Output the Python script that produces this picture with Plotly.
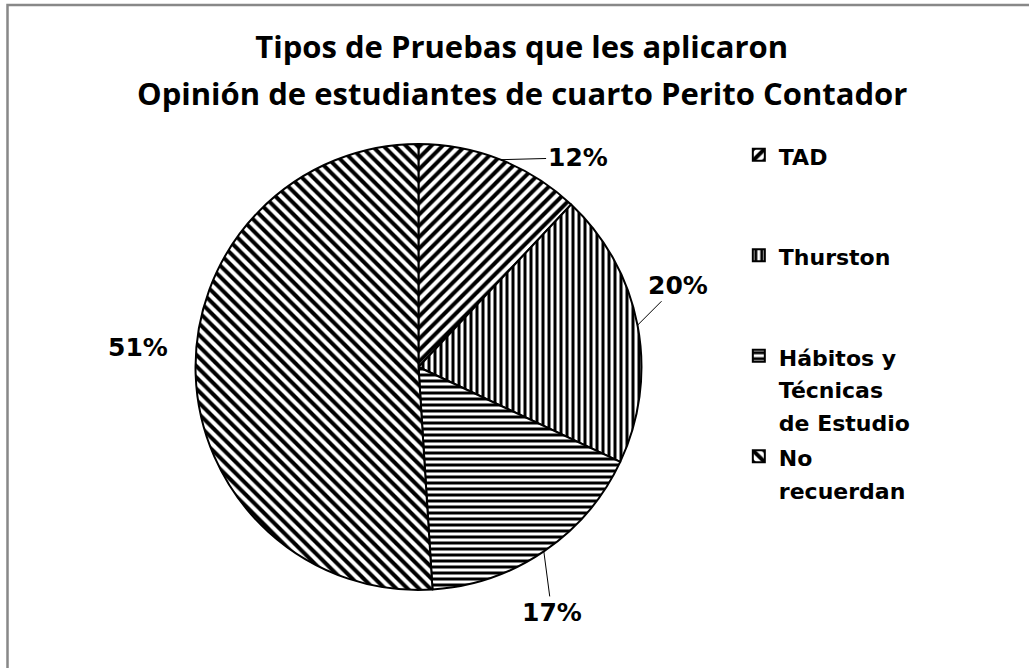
import math
import plotly.graph_objects as go

# data
labels = ["TAD", "Thurston", "Hábitos y<br>Técnicas<br>de Estudio", "No<br>recuerdan"]
values = [12, 20, 17, 51]
patterns = ["/", "|", "-", "\\"]

# legend rows: extra blank lines to reproduce the spacing of the original legend
pad = ["<br> <br> ", "<br> <br> ", "", ""]
legend_names = [f"<span style='font-size:22px'>{t}</span>{p}" for t, p in zip(labels, pad)]

W, H = 1029, 668
dom_x = [0.19, 0.6234]
dom_y = [0.1168, 0.7844]

fig = go.Figure()

fig.add_trace(go.Pie(
    labels=legend_names,
    values=values,
    sort=False,
    direction="clockwise",
    rotation=0,
    textinfo="none",
    hovertemplate="%{percent}<extra></extra>",
    domain=dict(x=dom_x, y=dom_y),
    marker=dict(
        colors=["white"] * 4,
        line=dict(color="black", width=2),
        pattern=dict(shape=patterns, fgcolor="black", bgcolor="white", fgopacity=1,
                     size=[8, 6, 6, 8], solidity=0.5, fillmode="replace"),
    ),
))

# percentage labels with leader lines, placed from the slice mid-angles
cx = (dom_x[0] + dom_x[1]) / 2 * W
cy = (1 - (dom_y[0] + dom_y[1]) / 2) * H
r = min((dom_x[1] - dom_x[0]) * W, (dom_y[1] - dom_y[0]) * H) / 2
total = sum(values)
offsets = [(77, -2, True), (40, -40, True), (8, 61, True), (-58, -27, False)]
cum = 0
for v, (ax, ay, line) in zip(values, offsets):
    mid = (cum + v / 2) / total * 2 * math.pi
    cum += v
    px = cx + r * math.sin(mid)
    py = cy - r * math.cos(mid)
    fig.add_annotation(
        x=px / W, y=1 - py / H, xref="paper", yref="paper",
        text=f"{round(v / total * 100)}%",
        showarrow=True, arrowhead=0, arrowwidth=1,
        arrowcolor="black" if line else "rgba(0,0,0,0)",
        ax=ax, ay=ay,
        font=dict(family="DejaVu Sans", size=25, color="black", weight="bold"),
    )

fig.add_annotation(
    x=0.507, y=1 - 93 / H, xref="paper", yref="paper",
    text="Opinión de estudiantes de cuarto Perito Contador",
    showarrow=False, yanchor="middle",
    font=dict(family="Open Sans", size=31, color="black", weight="bold"),
)

fig.add_shape(type="rect", xref="paper", yref="paper",
              x0=7.5 / W, x1=1.05, y0=-0.05, y1=1 - 5 / H,
              line=dict(color="#888888", width=2.5))

fig.update_layout(
    width=W,
    height=H,
    margin=dict(l=0, r=0, t=0, b=0),
    paper_bgcolor="white",
    plot_bgcolor="white",
    title=dict(
        text="Tipos de Pruebas que les aplicaron",
        x=0.507, xanchor="center", y=1 - 47 / H, yanchor="middle",
        font=dict(family="Open Sans", size=31, color="black", weight="bold"),
    ),
    legend=dict(
        x=0.718, xanchor="left", y=1 - 132 / H, yanchor="top",
        font=dict(family="DejaVu Sans", size=25, color="black", weight="bold"),
        valign="top",
        bgcolor="rgba(0,0,0,0)",
    ),
    showlegend=True,
)

fig.write_html("out.html", config=dict(displayModeBar=False),
               post_script="document.body.style.margin='0';")
